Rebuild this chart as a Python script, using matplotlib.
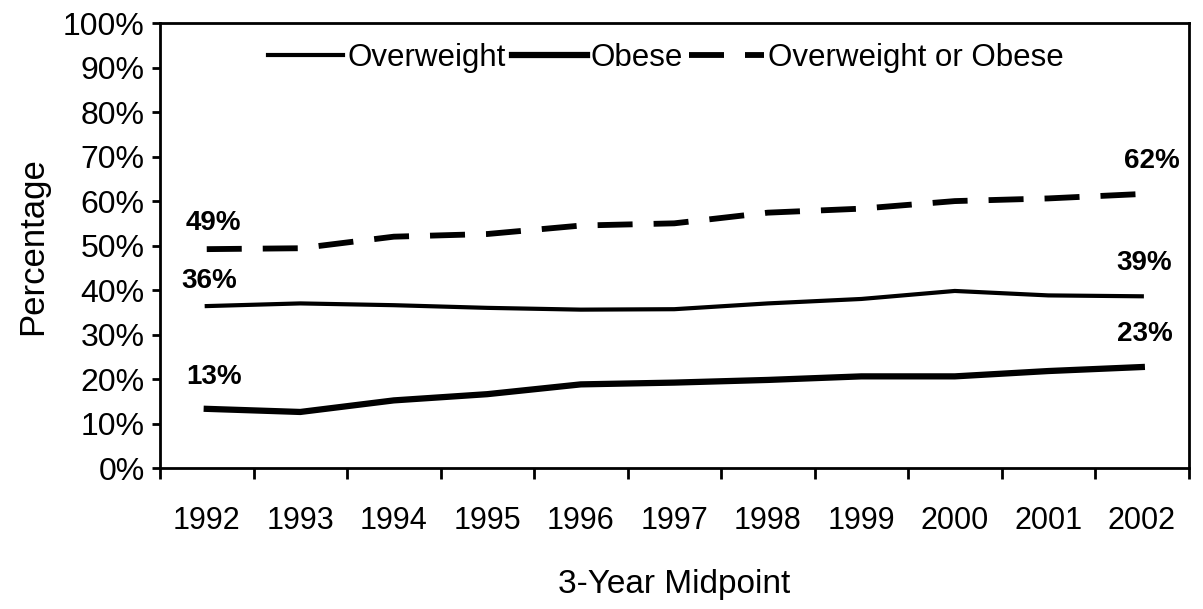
import matplotlib
matplotlib.use("Agg")
import matplotlib.pyplot as plt
from matplotlib.ticker import FixedLocator, PercentFormatter

plt.rcParams['font.family'] = ['Liberation Sans', 'DejaVu Sans']

years = ["1992", "1993", "1994", "1995", "1996", "1997", "1998", "1999", "2000", "2001", "2002"]
overweight = [36.4, 37.0, 36.6, 36.0, 35.6, 35.7, 37.0, 38.0, 39.8, 38.8, 38.6]
obese = [13.3, 12.6, 15.2, 16.6, 18.8, 19.2, 19.8, 20.6, 20.6, 21.8, 22.7]
ow_or_ob = [49.2, 49.4, 52.0, 52.6, 54.5, 55.0, 57.4, 58.3, 60.0, 60.6, 61.6]
series_names = ["Overweight", "Obese", "Overweight or Obese"]
yticks = [0, 10, 20, 30, 40, 50, 60, 70, 80, 90, 100]

fig = plt.figure(figsize=(12.03, 6.09), dpi=100)
ax = fig.add_axes([0.133, 0.2315, 0.855, 0.7305])

x = list(range(len(years)))
l1, = ax.plot(x, overweight, color='black', lw=3.0, solid_joinstyle='round', label=series_names[0])
l2, = ax.plot(x, obese, color='black', lw=4.5, solid_joinstyle='round', label=series_names[1])
l3, = ax.plot(x, ow_or_ob, color='black', lw=4.2, dashes=(6, 3.6), label=series_names[2])

ax.set_xlim(-0.5, len(years) - 0.5)
ax.set_ylim(0, 100)

ax.set_xticks(x)
ax.set_xticklabels(years, fontsize=22)
ax.tick_params(axis='x', which='major', length=0, pad=27)
ax.xaxis.set_minor_locator(FixedLocator([i - 0.5 for i in range(len(years) + 1)]))
ax.tick_params(axis='x', which='minor', length=8, width=2, direction='out')

ax.set_yticks(yticks)
ax.yaxis.set_major_formatter(PercentFormatter(decimals=0))
ax.tick_params(axis='y', which='major', length=6, width=2, direction='out', pad=5, labelsize=23)

for s in ax.spines.values():
    s.set_linewidth(2)
    s.set_color('black')

ax.set_xlabel("3-Year Midpoint", fontsize=24, labelpad=24)
ax.set_ylabel("Percentage", fontsize=25, labelpad=10)

# end-point labels
def lab(xi, val, dx, dy):
    ax.annotate(f"{val:.0f}%", xy=(xi, val), xytext=(dx, dy), textcoords='offset points',
                ha='center', va='center', fontsize=20, fontweight='bold')

last = len(years) - 1
lab(0, ow_or_ob[0], 5, 19)
lab(0, overweight[0], 2, 18)
lab(0, obese[0], 5, 23)
lab(last, ow_or_ob[last], 7, 24)
lab(last, overweight[last], 2, 24)
lab(last, obese[last], 2, 24)

ax.legend(handles=[l1, l2, l3], loc='center', bbox_to_anchor=(0.492, 0.921), ncol=3,
          frameon=False, fontsize=22.5, handlelength=2.4, handletextpad=0.12,
          columnspacing=0.2, borderpad=0.2)

fig.savefig("out.png", dpi=100, facecolor='white')
